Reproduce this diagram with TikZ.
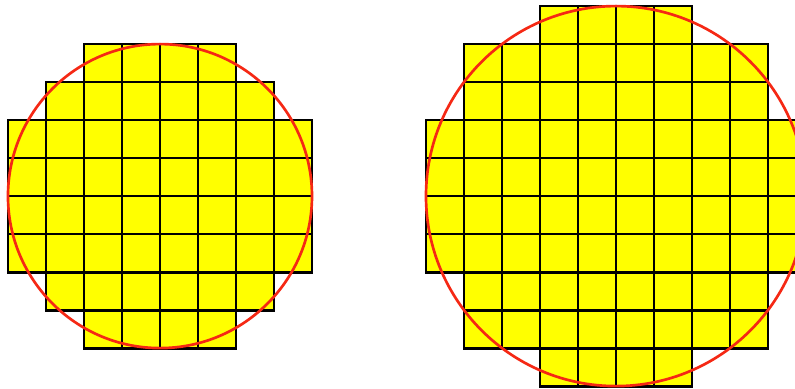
\documentclass[tikz,border=0pt]{standalone}
\usepackage{tikz}
\definecolor{cellfill}{RGB}{255,255,0}
\definecolor{rimred}{RGB}{245,40,20}

\begin{document}
\begin{tikzpicture}[
  cell/.style={draw=black,fill=cellfill,line width=2.1pt},
  rim/.style={draw=rimred,line width=2pt}
]
\useasboundingbox (-4.21,-5.05) rectangle (16.71,5.16);
\clip (-4.21,-5.05) rectangle (16.71,5.16);

% small wafer, radius 4
\foreach \y/\a/\b in {3/-2/1,2/-3/2,1/-4/3,0/-4/3,-1/-4/3,-2/-4/3,-3/-3/2,-4/-2/1}
  \foreach \x in {\a,...,\b}
    \draw[cell] (\x,\y) rectangle ++(1,1);
\draw[rim] (0,0) circle (4);

% large wafer, radius 5
\begin{scope}[shift={(12,0)}]
\foreach \y/\a/\b in {4/-2/1,3/-4/3,2/-4/3,1/-5/4,0/-5/4,-1/-5/4,-2/-5/4,-3/-4/3,-4/-4/3,-5/-2/1}
  \foreach \x in {\a,...,\b}
    \draw[cell] (\x,\y) rectangle ++(1,1);
\draw[rim] (0,0) circle (5);
\end{scope}
\end{tikzpicture}
\end{document}
